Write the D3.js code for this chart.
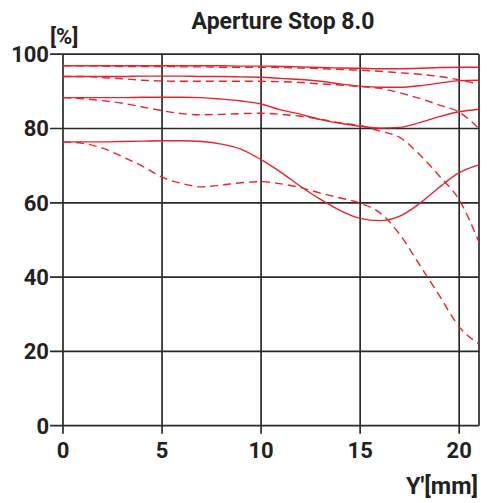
<!DOCTYPE html>
<html><head><meta charset="utf-8">
<script src="https://cdn.jsdelivr.net/npm/d3@7"></script>
<style>body{margin:0;background:#fff}svg{display:block}</style>
</head><body>
<svg id="c" width="487" height="503"></svg>
<script>
const xs = [0,1,2,3,4,5,6,7,8,9,10,11,12,13,14,15,16,17,18,19,20,21];
const sagSolid1 = [96.9,96.9,96.9,96.9,96.9,96.9,96.9,96.9,96.9,96.8,96.8,96.7,96.6,96.4,96.3,96.2,96.1,96.1,96.2,96.4,96.5,96.5];
const merDash1  = [96.9,96.9,96.8,96.7,96.7,96.7,96.6,96.6,96.5,96.5,96.5,96.4,96.3,96.1,95.9,95.7,95.4,95.0,94.6,94.0,93.1,91.9];
const sagSolid2 = [94.0,94.0,94.0,94.0,94.1,94.1,94.1,94.0,94.0,93.9,93.8,93.5,93.2,92.7,92.0,91.4,91.1,91.1,91.5,92.2,92.9,93.0];
const merDash2  = [94.0,94.0,93.7,93.4,93.0,92.8,92.7,92.7,92.7,92.7,92.7,92.6,92.4,92.0,91.7,91.3,90.8,89.6,88.1,86.3,84.4,80.0];
const sagSolid3 = [88.3,88.3,88.3,88.3,88.4,88.4,88.4,88.3,87.9,87.4,86.6,85.0,83.8,82.4,81.4,80.6,80.1,80.3,81.6,83.2,84.5,85.2];
const merDash3  = [88.3,88.0,87.5,86.8,85.8,84.8,84.0,83.7,83.8,84.0,84.1,83.8,83.3,82.5,81.5,80.8,79.3,77.6,73.0,67.2,60.8,49.4];
const sagSolid4 = [76.4,76.4,76.4,76.5,76.6,76.7,76.7,76.5,75.8,74.4,71.6,68.2,64.4,60.9,57.9,55.8,55.2,56.4,59.8,64.2,68.1,70.2];
const merDash4  = [76.4,76.0,74.7,72.4,69.9,66.9,65.2,64.3,64.8,65.4,65.7,65.1,64.1,62.6,61.3,59.9,57.3,51.5,43.3,35.0,26.6,22.0];

const xTicks = [0,5,10,15,20];
const yTicks = [0,20,40,60,80,100];
const title = "Aperture Stop 8.0";
const xLabel = "Y'[mm]";
const yLabel = "[%]";

const series = [
  {v: sagSolid1, dash: null}, {v: merDash1, dash: "8,5"},
  {v: sagSolid2, dash: null}, {v: merDash2, dash: "8,5"},
  {v: sagSolid3, dash: null}, {v: merDash3, dash: "8,5"},
  {v: sagSolid4, dash: null}, {v: merDash4, dash: "8,5"}
];

const L = 63, R = 479, T = 54.2, B = 425.7;
const x = d3.scaleLinear().domain([0,21]).range([L,R]);
const y = d3.scaleLinear().domain([0,100]).range([B,T]);
const svg = d3.select("#c");
const font = "Roboto, 'Liberation Sans', Arial, sans-serif";
const grid = "#2a2a2a";

// grid
svg.append("g").selectAll("line").data(xTicks).join("line")
  .attr("x1", d=>x(d)).attr("x2", d=>x(d)).attr("y1", T).attr("y2", B+8)
  .attr("stroke", grid).attr("stroke-width", 1.7);
svg.append("g").selectAll("line").data(yTicks).join("line")
  .attr("x1", L-13).attr("x2", R).attr("y1", d=>y(d)).attr("y2", d=>y(d))
  .attr("stroke", grid).attr("stroke-width", 1.7);
svg.append("line").attr("x1", R).attr("x2", R).attr("y1", T).attr("y2", B)
  .attr("stroke", grid).attr("stroke-width", 1.7);

// curves
const line = d3.line().x((d,i)=>x(xs[i])).y(d=>y(d)).curve(d3.curveMonotoneX);
svg.append("g").selectAll("path").data(series).join("path")
  .attr("d", d=>line(d.v)).attr("fill","none")
  .attr("stroke","#e8232d").attr("stroke-width",1.4)
  .attr("stroke-dasharray", d=>d.dash);

// tick labels
svg.append("g").selectAll("text").data(xTicks).join("text")
  .attr("x", d=>x(d)).attr("y", 458).attr("text-anchor","middle")
  .attr("font-family", font).attr("font-weight","bold").attr("font-size",22)
  .attr("fill","#222").text(d=>d);
svg.append("g").selectAll("text").data(yTicks).join("text")
  .attr("x", 49).attr("y", d=>y(d)+7.8).attr("text-anchor","end")
  .attr("font-family", font).attr("font-weight","bold").attr("font-size",22)
  .attr("fill","#222").text(d=>d);

svg.append("text").attr("x", 283).attr("y", 29).attr("text-anchor","middle")
  .attr("font-family", font).attr("font-weight","bold").attr("font-size",23)
  .attr("fill","#222").text(title);
svg.append("text").attr("x", 478).attr("y", 494).attr("text-anchor","end")
  .attr("font-family", font).attr("font-weight","bold").attr("font-size",23.5)
  .attr("fill","#222").text(xLabel);
svg.append("text").attr("x", 50).attr("y", 44).attr("text-anchor","start")
  .attr("font-family", font).attr("font-weight","bold").attr("font-size",22)
  .attr("fill","#222").text(yLabel);
</script>
</body></html>
